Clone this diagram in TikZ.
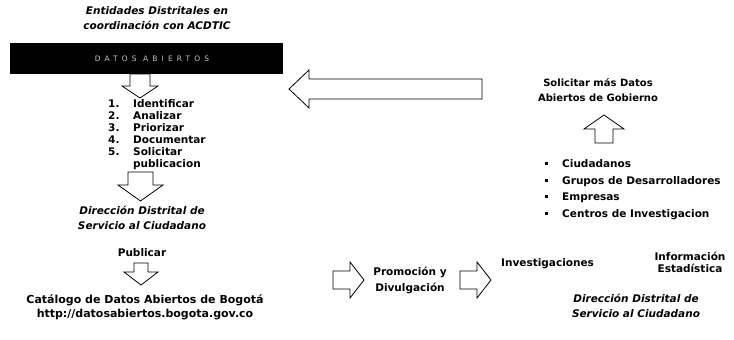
\documentclass[tikz,border=0pt]{standalone}
\usepackage{fontspec}
\setmainfont{DejaVu Sans}
\newfontfamily\barfont[LetterSpace=55]{DejaVu Sans}
\begin{document}
\begin{tikzpicture}[x=1pt,y=-1pt,
  lbl/.style={font=\bfseries\fontsize{10.5}{12}\selectfont, inner sep=0pt, align=center},
  ilbl/.style={font=\bfseries\itshape\fontsize{10.5}{15}\selectfont, inner sep=0pt, align=center},
  blk/.style={draw=black, line width=0.8pt, fill=white, line join=miter}]
\useasboundingbox (0,0) rectangle (734,340);
% title
\node[ilbl] (title) at (157,18) {Entidades Distritales en\\coordinación con ACDTIC};
% black bar
\node[fill=black, minimum width=273pt, minimum height=31pt, inner sep=0pt, anchor=north west] (bar) at (10,43) {};
\node[font=\barfont\fontsize{7.5}{8}\selectfont, text=gray!45, inner sep=0pt] (bartxt) at (152,58.5) {DATOS ABIERTOS};
% arrow 1 down
\draw[blk] (130,74) -- (150,74) -- (150,86) -- (158,86) -- (140,98) -- (122,86) -- (130,86) -- cycle;
% list
\foreach \n/\t/\yy in {1/Identificar/107, 2/Analizar/119, 3/Priorizar/131, 4/Documentar/143, 5/Solicitar/155}{
  \node[lbl, anchor=base west] (num\n) at (108,\yy) {\n.};
  \node[lbl, anchor=base west] (item\n) at (133,\yy) {\t};
}
\node[lbl, anchor=base west] (item5b) at (133,167) {publicacion};
% arrow 2 down
\draw[blk] (128,172) -- (153,172) -- (153,185) -- (163,185) -- (140.5,201) -- (118,185) -- (128,185) -- cycle;
\node[ilbl] (dir1) at (142,218) {Dirección Distrital de\\Servicio al Ciudadano};
\node[lbl] (pub) at (142,253) {Publicar};
% arrow 3 down
\draw[blk] (134,263) -- (148,263) -- (148,272) -- (158,272) -- (141,285) -- (124,272) -- (134,272) -- cycle;
\node[lbl, font=\bfseries\fontsize{11}{14}\selectfont] (cat) at (145,307) {Catálogo de Datos Abiertos de Bogotá\\http://datosabiertos.bogota.gov.co};
% big left arrow
\draw[blk] (289,89) -- (309,70) -- (309,79) -- (482,79) -- (482,99) -- (309,99) -- (309,108) -- cycle;
% right side
\node[lbl, font=\bfseries\fontsize{10}{15}\selectfont] (sol) at (598,90) {Solicitar más Datos\\Abiertos de Gobierno};
\draw[blk] (595,143) -- (613,143) -- (613,129) -- (624,129) -- (604,115) -- (584,129) -- (595,129) -- cycle;
\foreach \t/\yy [count=\i] in {Ciudadanos/167, Grupos de Desarrolladores/184, Empresas/200, Centros de Investigacion/217}{
  \fill (544.5,\yy-5.3) rectangle ++(3.2,3.2);
  \node[lbl, anchor=base west] (b\i) at (562,\yy) {\t};
}
\node[lbl, anchor=base west] (inv) at (501,266) {Investigaciones};
\node[lbl] (info) at (690,262) {Información\\Estadística};
\node[ilbl] (dir2) at (636,306) {Dirección Distrital de\\Servicio al Ciudadano};
% right arrows
\draw[blk] (333,271) -- (350,271) -- (350,262) -- (364,280) -- (350,298) -- (350,289) -- (333,289) -- cycle;
\node[lbl, font=\bfseries\fontsize{10.5}{16}\selectfont] (prom) at (410,280) {Promoción y\\Divulgación};
\draw[blk] (460,271) -- (477,271) -- (477,262) -- (491,280) -- (477,298) -- (477,289) -- (460,289) -- cycle;
\end{tikzpicture}
\end{document}
